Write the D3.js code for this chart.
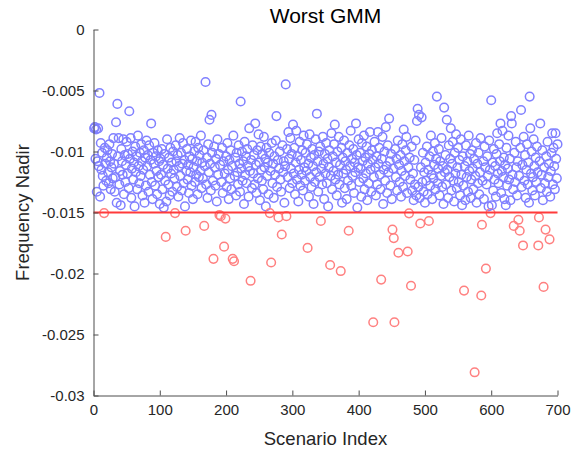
<!DOCTYPE html>
<html lang="en">
<head>
<meta charset="UTF-8">
<title>Worst GMM</title>
<script src="https://d3js.org/d3.v7.min.js"></script>
<style>
  body { margin: 0; background: #fff; }
  text { font-family: "Liberation Sans", Arial, sans-serif; }
</style>
</head>
<body>
<div id="chart"></div>
<script>
// frequency nadir per scenario, scenarios 1..700 (10 per row)
const nadir = [
  -0.0081, -0.0080, -0.0106, -0.0082, -0.0133, -0.0108, -0.0081, -0.0112, -0.0052, -0.0137,
  -0.0093, -0.0115, -0.0101, -0.0120, -0.0128, -0.01505, -0.0097, -0.0110, -0.0124, -0.0105,
  -0.0099, -0.0117, -0.0126, -0.0094, -0.0108, -0.0131, -0.0113, -0.0102, -0.0122, -0.0089,
  -0.0110, -0.0133, -0.0121, -0.0076, -0.0142, -0.0061, -0.0104, -0.0089, -0.0127, -0.0116,
  -0.0144, -0.0098, -0.0108, -0.0119, -0.0090, -0.0135, -0.0103, -0.0125, -0.0111, -0.0092,
  -0.0118, -0.0102, -0.0130, -0.0067, -0.0106, -0.0089, -0.0138, -0.0114, -0.0100, -0.0123,
  -0.0109, -0.0145, -0.0096, -0.0117, -0.0104, -0.0131, -0.0087, -0.0112, -0.0126, -0.0101,
  -0.0120, -0.0094, -0.0108, -0.0136, -0.0115, -0.0099, -0.0142, -0.0105, -0.0128, -0.0091,
  -0.0112, -0.0103, -0.0133, -0.0095, -0.0119, -0.0107, -0.0077, -0.0125, -0.0139, -0.0101,
  -0.0110, -0.0093, -0.0128, -0.0104, -0.0116, -0.0135, -0.0099, -0.0121, -0.0108, -0.0143,
  -0.0106, -0.0119, -0.0098, -0.0131, -0.0111, -0.0146, -0.0102, -0.0124, -0.0170, -0.0141,
  -0.0090, -0.0114, -0.0127, -0.0105, -0.0136, -0.0097, -0.0118, -0.0109, -0.0133, -0.0100,
  -0.0115, -0.0122, -0.01505, -0.0095, -0.0108, -0.0129, -0.0103, -0.0137, -0.0112, -0.0089,
  -0.0120, -0.0101, -0.0132, -0.0110, -0.0093, -0.0126, -0.0107, -0.0145, -0.0165, -0.0116,
  -0.0098, -0.0123, -0.0111, -0.0134, -0.0104, -0.0117, -0.0091, -0.0128, -0.0106, -0.0139,
  -0.0113, -0.0100, -0.0125, -0.0092, -0.0119, -0.0108, -0.0135, -0.0097, -0.0121, -0.0103,
  -0.0116, -0.0087, -0.0130, -0.0109, -0.0122, -0.0099, -0.0161, -0.0112, -0.0043, -0.0127,
  -0.0105, -0.0138, -0.0094, -0.0117, -0.0074, -0.0110, -0.0132, -0.0070, -0.0101, -0.0124,
  -0.0188, -0.0096, -0.0113, -0.0128, -0.0106, -0.0141, -0.0090, -0.0119, -0.0102, -0.0152,
  -0.0111, -0.0153, -0.0125, -0.0097, -0.0134, -0.0108, -0.0178, -0.0118, -0.0155, -0.0104,
  -0.0129, -0.0093, -0.0115, -0.0139, -0.0107, -0.0122, -0.0099, -0.0131, -0.0112, -0.0188,
  -0.0087, -0.0190, -0.0120, -0.0105, -0.0136, -0.0101, -0.0117, -0.0127, -0.0095, -0.0110,
  -0.0133, -0.0059, -0.0114, -0.0100, -0.0124, -0.0108, -0.0143, -0.0092, -0.0119, -0.0104,
  -0.0126, -0.0098, -0.0112, -0.0137, -0.0081, -0.0116, -0.0206, -0.0107, -0.0130, -0.0095,
  -0.0118, -0.0103, -0.0127, -0.0077, -0.0111, -0.0134, -0.0099, -0.0122, -0.0086, -0.0109,
  -0.0140, -0.0096, -0.0115, -0.0124, -0.0102, -0.0131, -0.0088, -0.0113, -0.0106, -0.0145,
  -0.0097, -0.0120, -0.0109, -0.0135, -0.0101, -0.01505, -0.0116, -0.0191, -0.0093, -0.0126,
  -0.0110, -0.0138, -0.0104, -0.0119, -0.0091, -0.0071, -0.0129, -0.0107, -0.0154, -0.0114,
  -0.0100, -0.0123, -0.0133, -0.0168, -0.0095, -0.0117, -0.0108, -0.0142, -0.0112, -0.0045,
  -0.0153, -0.0098, -0.0121, -0.0084, -0.0106, -0.0130, -0.0089, -0.0114, -0.0102, -0.0126,
  -0.0078, -0.0118, -0.0097, -0.0135, -0.0109, -0.0083, -0.0123, -0.0104, -0.0141, -0.0115,
  -0.0092, -0.0128, -0.0107, -0.0119, -0.0099, -0.0132, -0.0087, -0.0113, -0.0124, -0.0101,
  -0.0116, -0.0094, -0.0179, -0.0110, -0.0137, -0.0086, -0.0121, -0.0105, -0.0129, -0.0098,
  -0.0112, -0.0143, -0.0103, -0.0125, -0.0090, -0.0117, -0.0069, -0.0108, -0.0133, -0.0100,
  -0.0121, -0.0096, -0.0157, -0.0114, -0.0127, -0.0088, -0.0110, -0.0139, -0.0102, -0.0118,
  -0.0093, -0.0126, -0.0106, -0.0145, -0.0113, -0.0099, -0.0193, -0.0120, -0.0085, -0.0131,
  -0.0104, -0.0116, -0.0094, -0.0078, -0.0123, -0.0109, -0.0136, -0.0100, -0.0119, -0.0088,
  -0.0127, -0.0111, -0.0198, -0.0097, -0.0142, -0.0105, -0.0118, -0.0091, -0.0130, -0.0108,
  -0.0115, -0.0139, -0.0101, -0.0124, -0.0165, -0.0095, -0.0112, -0.0083, -0.0128, -0.0106,
  -0.0120, -0.0098, -0.0134, -0.0109, -0.0117, -0.0077, -0.0103, -0.0146, -0.0113, -0.0090,
  -0.0125, -0.0101, -0.0114, -0.0137, -0.0093, -0.0108, -0.0122, -0.0087, -0.0131, -0.0105,
  -0.0118, -0.0096, -0.0140, -0.0110, -0.0126, -0.0102, -0.0084, -0.0115, -0.0133, -0.0099,
  -0.0107, -0.0240, -0.0121, -0.0092, -0.0113, -0.0136, -0.0104, -0.0127, -0.0084, -0.0110,
  -0.0097, -0.0119, -0.0131, -0.0205, -0.0106, -0.0088, -0.0143, -0.0115, -0.0100, -0.0124,
  -0.0080, -0.0112, -0.0134, -0.0095, -0.0117, -0.0073, -0.0108, -0.0128, -0.0102, -0.0139,
  -0.0164, -0.0114, -0.0171, -0.0240, -0.0098, -0.0121, -0.0106, -0.0132, -0.0091, -0.0183,
  -0.0111, -0.0125, -0.0103, -0.0137, -0.0116, -0.0094, -0.0129, -0.0082, -0.0108, -0.0120,
  -0.0099, -0.0088, -0.0134, -0.0182, -0.0113, -0.01507, -0.0105, -0.0123, -0.0210, -0.0096,
  -0.0132, -0.0118, -0.0140, -0.0107, -0.0127, -0.0091, -0.0136, -0.0075, -0.0065, -0.0129,
  -0.0070, -0.0138, -0.0159, -0.0113, -0.0072, -0.0125, -0.0101, -0.0133, -0.0117, -0.0142,
  -0.0109, -0.0124, -0.0096, -0.0135, -0.0115, -0.0157, -0.0104, -0.0128, -0.0087, -0.0119,
  -0.0139, -0.0100, -0.0122, -0.0111, -0.0093, -0.0131, -0.0106, -0.0055, -0.0126, -0.0114,
  -0.0098, -0.0136, -0.0108, -0.0120, -0.0089, -0.0129, -0.0112, -0.0143, -0.0064, -0.0117,
  -0.0103, -0.0127, -0.0074, -0.0115, -0.0138, -0.0095, -0.0121, -0.0106, -0.0081, -0.0132,
  -0.0110, -0.0092, -0.0124, -0.0141, -0.0101, -0.0118, -0.0086, -0.0130, -0.0113, -0.0097,
  -0.0125, -0.0107, -0.0136, -0.0090, -0.0119, -0.0144, -0.0104, -0.0128, -0.0214, -0.0112,
  -0.0140, -0.0095, -0.0121, -0.0108, -0.0133, -0.0087, -0.0116, -0.0102, -0.0138, -0.0123,
  -0.0099, -0.0114, -0.0131, -0.0106, -0.0281, -0.0120, -0.0093, -0.0142, -0.0110, -0.0126,
  -0.0101, -0.0135, -0.0117, -0.0089, -0.0218, -0.0160, -0.0124, -0.0108, -0.0139, -0.0096,
  -0.0113, -0.0196, -0.0127, -0.0104, -0.0120, -0.0145, -0.0091, -0.0115, -0.01505, -0.0058,
  -0.0144, -0.0109, -0.0132, -0.0098, -0.0123, -0.0112, -0.0137, -0.0102, -0.0085, -0.0118,
  -0.0126, -0.0094, -0.0108, -0.0077, -0.0134, -0.0116, -0.0083, -0.0121, -0.0105, -0.0139,
  -0.0111, -0.0144, -0.0097, -0.0128, -0.0114, -0.0087, -0.0123, -0.0106, -0.0140, -0.0071,
  -0.0077, -0.0119, -0.0131, -0.0161, -0.0101, -0.0125, -0.0092, -0.0113, -0.0136, -0.0108,
  -0.0156, -0.0120, -0.0165, -0.0097, -0.0066, -0.0129, -0.0111, -0.0177, -0.0088, -0.0124,
  -0.0103, -0.0138, -0.0115, -0.0094, -0.0127, -0.0109, -0.0142, -0.0055, -0.0081, -0.0118,
  -0.0100, -0.0132, -0.0121, -0.0090, -0.0112, -0.0136, -0.0105, -0.0125, -0.0096, -0.0117,
  -0.0177, -0.0154, -0.0108, -0.0077, -0.0130, -0.0119, -0.0099, -0.0140, -0.0211, -0.0113,
  -0.0126, -0.0164, -0.0104, -0.0133, -0.0092, -0.0121, -0.0110, -0.0172, -0.0137, -0.0116,
  -0.0101, -0.0085, -0.0127, -0.0097, -0.0112, -0.0131, -0.0085, -0.0106, -0.0122, -0.0094
]
const threshold = -0.015
const xTicks = [0, 100, 200, 300, 400, 500, 600, 700]
const yTicks = [-0.03, -0.025, -0.02, -0.015, -0.01, -0.005, 0]

const width = 587
const height = 451
const mLeft = 93.5, mRight = 557.5, mTop = 29.5, mBottom = 395.5

const data = nadir.map((v, i) => ({idx: i + 1, v: v}))

const xScale = d3.scaleLinear().domain([0, 700]).range([mLeft, mRight])
const yScale = d3.scaleLinear().domain([-0.03, 0]).range([mBottom, mTop])

const svg = d3.select("#chart").append("svg")
    .attr("width", width)
    .attr("height", height)

// points: above threshold blue, below red
svg.append("g").selectAll("circle")
    .data(data)
    .join("circle")
    .attr("cx", d => xScale(d.idx))
    .attr("cy", d => yScale(d.v))
    .attr("r", 4.3)
    .attr("fill", "none")
    .attr("stroke", d => d.v < threshold ? "#ff8080" : "#8080ff")
    .attr("stroke-width", 1.5)

svg.append("line")
    .attr("x1", xScale(0))
    .attr("x2", xScale(700))
    .attr("y1", yScale(threshold))
    .attr("y2", yScale(threshold))
    .attr("stroke", "#ff3b3b")
    .attr("stroke-width", 2)

const fmtY = d => d === 0 ? "0" : String(+d.toFixed(3))

const xAxis = d3.axisBottom(xScale).tickValues(xTicks).tickSizeInner(-5).tickSizeOuter(0).tickPadding(9)
const yAxis = d3.axisLeft(yScale).tickValues(yTicks).tickSizeInner(-5).tickSizeOuter(0).tickPadding(9).tickFormat(fmtY)

const gx = svg.append("g")
    .attr("transform", "translate(0," + mBottom + ")")
    .call(xAxis)
const gy = svg.append("g")
    .attr("transform", "translate(" + mLeft + ",0)")
    .call(yAxis)

for (const g of [gx, gy]) {
    g.select(".domain").attr("stroke", "#4d4d4d")
    g.selectAll(".tick line").attr("stroke", "#4d4d4d")
    g.selectAll(".tick text")
        .attr("fill", "#262626")
        .style("font-size", "15px")
        .style("font-family", "Liberation Sans, Arial, sans-serif")
}

svg.append("text")
    .attr("x", (mLeft + mRight) / 2)
    .attr("y", 23)
    .attr("text-anchor", "middle")
    .style("font-size", "21px")
    .attr("fill", "#000")
    .text("Worst GMM")

svg.append("text")
    .attr("x", (mLeft + mRight) / 2)
    .attr("y", 445)
    .attr("text-anchor", "middle")
    .style("font-size", "18.5px")
    .attr("fill", "#262626")
    .text("Scenario Index")

svg.append("text")
    .attr("transform", "translate(29," + ((mTop + mBottom) / 2) + ") rotate(-90)")
    .attr("text-anchor", "middle")
    .style("font-size", "18.5px")
    .attr("fill", "#262626")
    .text("Frequency Nadir")
</script>
</body>
</html>
